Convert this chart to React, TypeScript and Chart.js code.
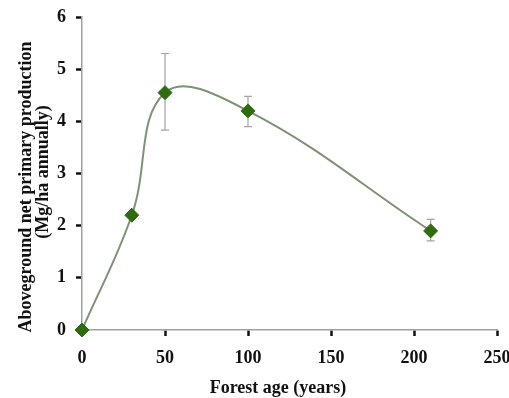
import React, { useEffect, useRef } from "react";
import { Chart, registerables } from "chart.js";

Chart.register(...registerables);

const forestAge = [0, 30, 50, 100, 210];
const anpp = [0, 2.2, 4.55, 4.2, 1.9];
const errHigh = [null, null, 5.3, 4.48, 2.12];
const errLow = [null, null, 3.83, 3.9, 1.71];
const xTicks = [0, 50, 100, 150, 200, 250];
const yTicks = [0, 1, 2, 3, 4, 5, 6];
const xTitle = "Forest age (years)";
const yTitle = ["Aboveground net primary production", "(Mg/ha annually)"];

const FONT = '"Liberation Serif", "Times New Roman", serif';

const errorBarPlugin = {
  id: "errorBars",
  beforeDatasetsDraw(chart: any) {
    const { ctx, scales } = chart;
    const xs = scales.x;
    const ys = scales.y;
    ctx.save();
    ctx.strokeStyle = "#a3a3a3";
    ctx.lineWidth = 1.2;
    forestAge.forEach((a, i) => {
      const hi = errHigh[i];
      const lo = errLow[i];
      if (hi == null || lo == null) return;
      const px = xs.getPixelForValue(a);
      const pyH = ys.getPixelForValue(hi);
      const pyL = ys.getPixelForValue(lo);
      const cap = 4;
      ctx.beginPath();
      ctx.moveTo(px, pyH);
      ctx.lineTo(px, pyL);
      ctx.moveTo(px - cap, pyH);
      ctx.lineTo(px + cap, pyH);
      ctx.moveTo(px - cap, pyL);
      ctx.lineTo(px + cap, pyL);
      ctx.stroke();
    });
    ctx.restore();
  },
};

const titlePlugin = {
  id: "axisTitles",
  afterDraw(chart: any) {
    const { ctx } = chart;
    ctx.save();
    ctx.fillStyle = "#111";
    ctx.font = `bold 18px ${FONT}`;
    ctx.textAlign = "center";
    ctx.textBaseline = "middle";
    ctx.fillText(xTitle, 278, 388);
    ctx.save();
    ctx.translate(26, 187);
    ctx.rotate(-Math.PI / 2);
    ctx.fillText(yTitle[0], 0, 0);
    ctx.restore();
    ctx.save();
    ctx.translate(43, 172);
    ctx.rotate(-Math.PI / 2);
    ctx.fillText(yTitle[1], 0, 0);
    ctx.restore();
    ctx.restore();
  },
};

export default function App() {
  const ref = useRef<HTMLCanvasElement>(null);
  useEffect(() => {
    if (!ref.current) return;
    const chart = new Chart(ref.current, {
      type: "line",
      data: {
        datasets: [
          {
            data: forestAge.map((a, i) => ({ x: a, y: anpp[i] })),
            borderColor: "#7d9274",
            borderWidth: 2,
            tension: 0.4,
            pointStyle: "rectRot",
            pointRadius: 7,
            pointBackgroundColor: "#2e6c0f",
            pointBorderColor: "#2e6c0f",
            pointBorderWidth: 1,
            clip: false as any,
            fill: false,
          },
        ],
      },
      options: {
        responsive: false,
        animation: false,
        layout: { padding: { top: 17, right: 12, left: 0, bottom: 0 } },
        plugins: {
          legend: { display: false },
          tooltip: { enabled: false },
        },
        scales: {
          x: {
            type: "linear",
            min: 0,
            max: 250,
            afterBuildTicks(scale: any) {
              scale.ticks = xTicks.map((v) => ({ value: v }));
            },
            afterFit(scale: any) {
              scale.height = 68;
              scale.paddingLeft = 0;
              scale.paddingRight = 0;
            },
            ticks: {
              color: "#111",
              font: { family: FONT, size: 18, weight: "bold" },
              padding: 12,
              maxRotation: 0,
            },
            grid: {
              drawOnChartArea: false,
              drawTicks: true,
              tickLength: 6,
              tickColor: "#111",
              tickWidth: 2.5,
            },
            border: { color: "#a0a0a0", width: 1.5 },
          },
          y: {
            type: "linear",
            min: 0,
            max: 6,
            afterBuildTicks(scale: any) {
              scale.ticks = yTicks.map((v) => ({ value: v }));
            },
            afterFit(scale: any) {
              scale.width = 82;
              scale.paddingTop = 0;
              scale.paddingBottom = 0;
            },
            ticks: {
              color: "#111",
              font: { family: FONT, size: 18, weight: "bold" },
              padding: 10,
            },
            grid: {
              drawOnChartArea: false,
              drawTicks: true,
              tickLength: 6,
              tickColor: "#111",
              tickWidth: 2.5,
            },
            border: { color: "#a0a0a0", width: 1.5 },
          },
        },
      },
      plugins: [errorBarPlugin, titlePlugin],
    });
    return () => chart.destroy();
  }, []);
  return (
    <div style={{ position: "absolute", left: 0, top: 0, width: 509, height: 398, background: "#fff" }}>
      <canvas ref={ref} width={509} height={398} style={{ display: "block" }} />
    </div>
  );
}
